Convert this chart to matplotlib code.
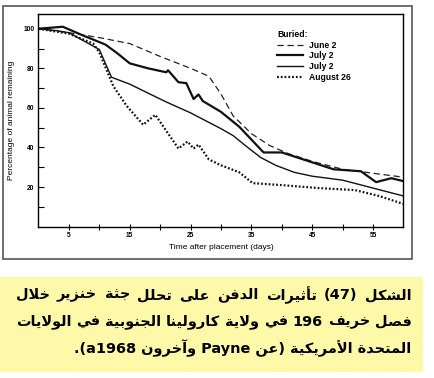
import re
import matplotlib
matplotlib.use("Agg")
import matplotlib.pyplot as plt
from matplotlib.patches import Rectangle

# --- data ---
june2_days = [0, 5, 10, 15, 20, 25, 28, 30, 32, 35, 38, 41, 45, 50, 55, 60]
june2_pct = [100, 98, 95.5, 92.5, 86, 80, 76, 67, 56, 47, 41, 37, 33, 29, 27, 25]

july2a_days = [0, 2, 4, 7, 11, 13, 15, 18, 21, 21.3, 23, 24.3, 25.5, 26.3, 27,
               30, 33, 35, 37, 40, 43, 48.5, 53, 55.5, 58, 60]
july2a_pct = [100, 100.5, 101, 97, 92, 87.5, 82.5, 80, 78, 79, 73, 72.5, 64.5,
              66.8, 63.5, 58, 50.5, 44, 37.5, 37.5, 34.5, 29, 28, 22.5, 24.5, 23]

july2b_days = [0, 3, 5, 10, 12, 15, 18, 21, 25, 27.5, 30, 32, 34, 36.5, 39, 42,
               45, 50, 55, 60]
july2b_pct = [100, 99, 98, 89.5, 75.5, 72, 67.5, 63, 57.5, 53.5, 49.5, 46, 41,
              35, 31, 27.5, 25.5, 23.5, 19.5, 15.5]

aug26_days = [0, 5, 9, 10, 12.3, 14.5, 17.2, 19.2, 23, 24.5, 25.5, 26.3, 28,
              30, 33, 35.2, 40, 46, 52, 56, 60]
aug26_pct = [100, 97.5, 92.5, 88, 71, 61, 51.5, 56.5, 39.5, 43, 39.5, 41.5, 34,
             31, 27.5, 22, 21, 19.5, 18.5, 15.5, 11.5]

x_ticks = [5, 10, 15, 20, 25, 30, 35, 40, 45, 50, 55]
x_labels = ["5", "", "15", "", "25", "", "35", "", "45", "", "55"]
y_ticks = [10, 20, 30, 40, 50, 60, 70, 80, 90, 100]
y_labels = ["", "20", "", "40", "", "60", "", "80", "", "100"]

caption = [
    "الشكل (47) تأثيرات الدفن على تحلل جثة خنزير خلال",
    "فصل خريف 196 في ولاية كارولينا الجنوبية في الولايات",
    "المتحدة الأمريكية (عن Payne وآخرون a1968).",
]

# --- tiny Arabic shaper (matplotlib does no shaping / bidi) ---
ARABIC = {
    'ا': (0xFE8D, 2), 'أ': (0xFE83, 2), 'آ': (0xFE81, 2), 'إ': (0xFE87, 2),
    'ب': (0xFE8F, 4), 'ة': (0xFE93, 2), 'ت': (0xFE95, 4), 'ث': (0xFE99, 4),
    'ج': (0xFE9D, 4), 'ح': (0xFEA1, 4), 'خ': (0xFEA5, 4), 'د': (0xFEA9, 2),
    'ذ': (0xFEAB, 2), 'ر': (0xFEAD, 2), 'ز': (0xFEAF, 2), 'س': (0xFEB1, 4),
    'ش': (0xFEB5, 4), 'ص': (0xFEB9, 4), 'ع': (0xFEC9, 4), 'ف': (0xFED1, 4),
    'ق': (0xFED5, 4), 'ك': (0xFED9, 4), 'ل': (0xFEDD, 4), 'م': (0xFEE1, 4),
    'ن': (0xFEE5, 4), 'ه': (0xFEE9, 4), 'و': (0xFEED, 2), 'ى': (0xFEEF, 2),
    'ي': (0xFEF1, 4),
}
LAM_ALEF = {'آ': 0xFEF5, 'أ': 0xFEF7, 'إ': 0xFEF9, 'ا': 0xFEFB}


def shape_word(w):
    units = []
    i = 0
    while i < len(w):
        if w[i] == 'ل' and i + 1 < len(w) and w[i + 1] in LAM_ALEF:
            units.append(('la', LAM_ALEF[w[i + 1]]))
            i += 2
        else:
            units.append(('c', w[i]))
            i += 1

    def joins_next(u):
        return u[0] == 'c' and u[1] in ARABIC and ARABIC[u[1]][1] == 4

    out = []
    for k, (kind, v) in enumerate(units):
        prev_j = k > 0 and joins_next(units[k - 1])
        if kind == 'la':
            out.append(chr(v + (1 if prev_j else 0)))
            continue
        if v not in ARABIC:
            out.append(v)
            continue
        base, n = ARABIC[v]
        nxt = n == 4 and k + 1 < len(units) and (
            units[k + 1][0] == 'la' or units[k + 1][1] in ARABIC)
        if prev_j and nxt:
            off = 3
        elif prev_j:
            off = 1
        elif nxt:
            off = 2
        else:
            off = 0
        out.append(chr(base + off))
    return ''.join(out)


def visual(line):
    toks = re.findall(r'[\u0600-\u06FF]+|[A-Za-z0-9]+|\s+|.', line)
    res = []
    for t in reversed(toks):
        if re.match(r'[\u0600-\u06FF]', t):
            res.append(shape_word(t)[::-1])
        elif t == '(':
            res.append(')')
        elif t == ')':
            res.append('(')
        else:
            res.append(t)
    return ''.join(res)


plt.rcParams['font.family'] = ['Liberation Sans', 'DejaVu Sans']

W, H = 435, 378
fig = plt.figure(figsize=(W / 100, H / 100), dpi=100)
fig.patch.set_facecolor("white")

# scanned page frame
fig.patches.append(Rectangle((0.007, 0.315), 0.940, 0.669, transform=fig.transFigure,
                             fill=False, edgecolor="#555555", linewidth=1.2))
# yellow caption box
fig.patches.append(Rectangle((0.0, 0.0167), 0.9724, 0.2513, transform=fig.transFigure,
                             facecolor="#fdf9a8", edgecolor="none"))

ax = fig.add_axes([0.0885, 0.4003, 0.839, 0.563])
ax.plot(june2_days, june2_pct, color="#222222", lw=0.9, ls=(0, (5, 3)), label="June 2")
ax.plot(july2a_days, july2a_pct, color="#111111", lw=1.6, label="July 2")
ax.plot(july2b_days, july2b_pct, color="#111111", lw=1.0, label="July 2")
ax.plot(aug26_days, aug26_pct, color="#111111", lw=1.6, ls=(0, (0.8, 0.9)), label="August 26")

ax.set_xlim(0, 60)
ax.set_ylim(0, 107.5)
ax.set_xticks(x_ticks)
ax.set_xticklabels(x_labels, fontsize=4.8, fontweight="bold")
ax.set_yticks(y_ticks)
ax.set_yticklabels(y_labels, fontsize=4.8, fontweight="bold")
ax.tick_params(axis="x", direction="inout", length=4, width=0.8, pad=1.5)
ax.tick_params(axis="y", direction="in", length=4, width=0.8, pad=3)
for s in ax.spines.values():
    s.set_linewidth(1.0)

ax.set_xlabel("Time after placement (days)", fontsize=6, labelpad=4)
ax.set_ylabel("Percentage of animal remaining", fontsize=6, labelpad=6)

leg = ax.legend(title="Buried:", loc="upper left", bbox_to_anchor=(0.642, 0.945),
                frameon=False, fontsize=6.2, title_fontsize=6.2, handlelength=3.0,
                labelspacing=0.2, borderpad=0, handletextpad=0.7, alignment="left")
for t in leg.get_texts():
    t.set_fontweight("bold")
leg.get_title().set_fontweight("bold")

# Arabic caption: first two lines justified across the box, last line right aligned
right_px, width_px = 411.7, 396.0
ys_px = [295, 321.7, 348]
cap_kw = dict(fontweight="bold", family=["DejaVu Sans"], va="center")

renderer = fig.canvas.get_renderer()
probe = [fig.text(0, 0, visual(s), fontsize=11, **cap_kw) for s in caption]
widest = max(p.get_window_extent(renderer).width for p in probe)
for p in probe:
    p.remove()
fs = 11 * width_px / widest

for n, (line, y) in enumerate(zip(caption, ys_px)):
    yf = 1 - y / H
    vis = visual(line)
    if n == len(caption) - 1:
        fig.text(right_px / W, yf, vis, ha="right", fontsize=fs, **cap_kw)
        continue
    words = vis.split(" ")
    objs = [fig.text(0, yf, wd, ha="left", fontsize=fs, **cap_kw) for wd in words]
    widths = [o.get_window_extent(renderer).width for o in objs]
    gap = (width_px - sum(widths)) / (len(words) - 1)
    x = right_px - width_px
    for o, wd in zip(objs, widths):
        o.set_x(x / W)
        x += wd + gap

fig.savefig("out.png", dpi=100)
